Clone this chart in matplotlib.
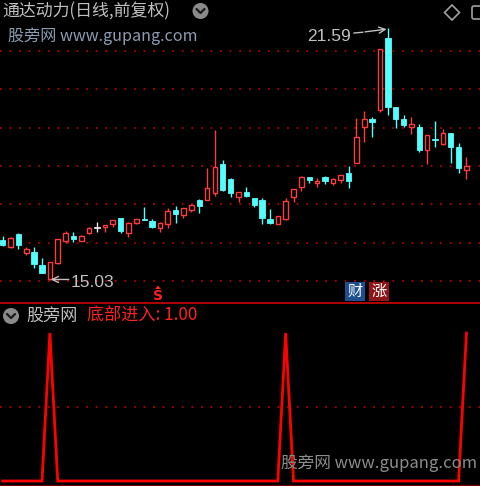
import matplotlib
matplotlib.use("Agg")
import matplotlib.pyplot as plt
from matplotlib.patches import Rectangle, Circle, Polygon, FancyBboxPatch
import numpy as np

plt.rcParams['font.family'] = ['Noto Sans CJK SC', 'DejaVu Sans']

# ---- daily OHLC prices ----
opens = [16.08, 15.88, 16.22, 15.72, 15.76, 15.42, 15.05, 15.46, 16.05, 16.17,
         16.05, 16.24, 16.42, 16.40, 16.49, 16.64, 16.26, 16.52, 16.62, 16.57,
         16.37, 16.49, 16.85, 16.72, 16.85, 17.11, 17.11, 17.30, 18.04, 17.65,
         17.20, 17.33, 17.17, 17.11, 16.61, 16.49, 16.61, 17.20, 17.44, 17.72,
         17.55, 17.71, 17.56, 17.64, 17.81, 18.09, 19.01, 19.22, 19.46, 21.33,
         19.53, 19.22, 19.03, 19.03, 18.42, 18.70, 18.57, 18.87, 18.50, 17.90]
highs = [16.17, 16.16, 16.26, 15.89, 15.88, 15.61, 15.49, 16.10, 16.31, 16.29,
         16.20, 16.42, 16.55, 16.46, 16.59, 16.64, 16.55, 16.63, 16.94, 16.61,
         16.55, 16.90, 16.96, 16.90, 17.01, 17.13, 17.96, 18.94, 18.16, 17.68,
         17.33, 17.44, 17.17, 17.16, 16.87, 16.70, 17.16, 17.39, 17.74, 17.72,
         17.68, 17.74, 17.68, 17.76, 18.00, 19.24, 19.44, 19.29, 21.05, 21.59,
         19.53, 19.33, 19.29, 19.10, 18.81, 19.18, 18.96, 18.87, 18.59, 18.23]
lows = [15.91, 15.85, 15.83, 15.68, 15.33, 15.22, 15.03, 15.45, 15.98, 16.03,
        16.04, 16.23, 16.29, 16.29, 16.40, 16.24, 16.16, 16.48, 16.59, 16.37,
        16.29, 16.37, 16.52, 16.64, 16.81, 16.78, 17.11, 17.22, 17.36, 17.20,
        17.07, 17.18, 16.92, 16.49, 16.49, 16.49, 16.59, 17.07, 17.36, 17.55,
        17.44, 17.53, 17.50, 17.55, 17.42, 18.09, 18.63, 18.75, 19.42, 19.33,
        18.98, 19.03, 18.84, 18.37, 18.05, 18.50, 18.55, 18.09, 17.81, 17.65]
closes = [15.94, 16.11, 15.94, 15.83, 15.44, 15.22, 15.49, 16.09, 16.24, 16.10,
          16.17, 16.39, 16.42, 16.46, 16.59, 16.30, 16.52, 16.63, 16.60, 16.42,
          16.51, 16.83, 16.75, 16.90, 16.98, 16.96, 17.42, 17.98, 17.37, 17.30,
          17.33, 17.22, 16.98, 16.64, 16.52, 16.70, 17.09, 17.39, 17.72, 17.64,
          17.62, 17.62, 17.65, 17.76, 17.62, 18.75, 19.22, 19.16, 21.05, 19.53,
          19.22, 19.07, 19.10, 18.42, 18.81, 18.68, 18.85, 18.49, 17.94, 18.00]

# ---- bottom-entry signal (底部进入) per bar ----
entry_signal = [0, 0, 0, 0, 0, 0, 1, 0, 0, 0,
                0, 0, 0, 0, 0, 0, 0, 0, 0, 0,
                0, 0, 0, 0, 0, 0, 0, 0, 0, 0,
                0, 0, 0, 0, 0, 0, 1, 0, 0, 0,
                0, 0, 0, 0, 0, 0, 0, 0, 0, 0,
                0, 0, 0, 0, 0, 0, 0, 0, 0, 1]

price_grid = [15, 16, 17, 18, 19, 20, 21]
signal_grid = [0.5]

W, H = 480, 486
BG = '#000000'
UP = '#ff3c3c'
DOWN = '#54ffff'
FLAT = '#e6e6e6'
GRID = '#b00000'
GRAY = '#c0c0c0'

fig = plt.figure(figsize=(W / 100, H / 100), dpi=100, facecolor=BG)

# bar index <-> pixel column
X0, DX = 2.7, 7.86
xlim = (-X0 / DX, (W - X0) / DX)

# top (price) panel: pixel rows 0..302
ax = fig.add_axes([0, 1 - 302 / H, 1, 302 / H])
ax.set_facecolor(BG)
PPU = 38.33
ax.set_ylim(15 - 21 / PPU, 15 + 281 / PPU)
ax.set_xlim(*xlim)
ax.axis('off')

for g in price_grid:
    ax.axhline(g, color=GRID, lw=1.3, ls=(0, (1, 4.3)), zorder=1)

bw = 0.58
for i, (o, h, l, c) in enumerate(zip(opens, highs, lows, closes)):
    top, bot = max(o, c), min(o, c)
    if c > o:
        ax.plot([i, i], [top, h], color=UP, lw=1.0, zorder=3, solid_capstyle='butt')
        ax.plot([i, i], [l, bot], color=UP, lw=1.0, zorder=3, solid_capstyle='butt')
        ax.add_patch(Rectangle((i - bw / 2, bot), bw, top - bot, facecolor=BG,
                               edgecolor=UP, lw=1.0, zorder=4))
    else:
        col = DOWN if c < o else FLAT
        ax.plot([i, i], [l, h], color=col, lw=1.0, zorder=3, solid_capstyle='butt')
        hgt = max(top - bot, 0.03)
        ax.add_patch(Rectangle((i - bw / 2 - 0.05, top - hgt), bw + 0.1, hgt,
                               facecolor=col, edgecolor=col, lw=0.6, zorder=4))

# high / low labels with arrows
hi_idx = int(np.argmax(highs))
hi = highs[hi_idx]
lo_idx = int(np.argmin(lows))
lo = lows[lo_idx]
lab_kw = dict(color=GRAY, fontsize=12.5, family=['Liberation Sans', 'DejaVu Sans'],
              va='center', ha='center', zorder=6)
ax.text(hi_idx - 7.5, hi - 0.21, f'{hi:.2f}', **lab_kw)
ax.plot([hi_idx - 4.3, hi_idx - 3.2], [hi - 0.12, hi - 0.10], color=GRAY, lw=1.0, zorder=6)
ax.annotate('', xy=(hi_idx - 0.15, hi - 0.02), xytext=(hi_idx - 2.9, hi - 0.09),
            arrowprops=dict(arrowstyle='->,head_length=0.45,head_width=0.22',
                            color=GRAY, lw=1.0, shrinkA=0, shrinkB=0), zorder=6)
ax.text(lo_idx + 5.4, lo - 0.06, f'{lo:.2f}', **lab_kw)
ax.annotate('', xy=(lo_idx + 0.1, lo + 0.01), xytext=(lo_idx + 2.4, lo + 0.01),
            arrowprops=dict(arrowstyle='->,head_length=0.45,head_width=0.22',
                            color=GRAY, lw=1.0, shrinkA=0, shrinkB=0), zorder=6)

# bottom (signal) panel: pixel rows 303..486
ax2 = fig.add_axes([0, 0, 1, 183 / H])
ax2.set_facecolor(BG)
SPU = 148.0
ax2.set_ylim(-5 / SPU, 1 + 30 / SPU)
ax2.set_xlim(*xlim)
ax2.axis('off')
for g in signal_grid:
    ax2.axhline(g, color=GRID, lw=1.3, ls=(0, (1, 4.3)), zorder=1)
ax2.plot(np.arange(len(entry_signal)), entry_signal, color='#ff0000', lw=2.0,
         zorder=3, solid_joinstyle='miter')

# overlay in pixel coordinates for decorations
ov = fig.add_axes([0, 0, 1, 1], zorder=10)
ov.set_xlim(0, W)
ov.set_ylim(H, 0)
ov.axis('off')
ov.patch.set_alpha(0)

# panel separator and bottom border
ov.plot([0, W], [302.5, 302.5], color='#c00000', lw=1.3)
ov.plot([0, W], [485, 485], color='#6a0000', lw=1.0)

# title line
ov.text(2, 11, '通达动力(日线,前复权)', color=GRAY, fontsize=12.2, va='center', ha='left')
ov.add_patch(Circle((200.5, 11), 8, facecolor='#8a8a8a', edgecolor='none'))
ov.plot([196.5, 200.5, 204.5], [9, 13, 9], color='#1a1a1a', lw=1.6, solid_capstyle='round')
ov.text(8, 36, '股旁网 www.gupang.com', color='#8b9cb0', fontsize=11.6, va='center', ha='left')

# top-right tool icons
ov.add_patch(Polygon([(452, 5), (459.5, 12.5), (452, 20), (444.5, 12.5)], closed=True,
                     facecolor='none', edgecolor='#a0a0a0', lw=1.2))
ov.add_patch(FancyBboxPatch((472, 6), 14, 13, boxstyle='round,pad=0,rounding_size=2',
                            facecolor='none', edgecolor='#a0a0a0', lw=1.2))

# event markers under the price panel
ov.text(158, 296, 'S', color='#ff2020', fontsize=10, fontweight='bold', va='center',
        ha='center', family=['DejaVu Sans'])
ov.add_patch(Polygon([(155, 289), (158, 285.5), (161, 289)], closed=True,
                     facecolor='#ff2020', edgecolor='none'))
ov.add_patch(Rectangle((345, 282), 20, 19, facecolor='#1d4f8f', edgecolor='none'))
ov.text(355, 291.5, '财', color='white', fontsize=11, va='center', ha='center')
ov.add_patch(Rectangle((369, 282), 20, 19, facecolor='#8e1616', edgecolor='none'))
ov.text(379, 291.5, '涨', color='white', fontsize=11, va='center', ha='center')

# signal panel header
ov.add_patch(Circle((11, 316), 8, facecolor='#8a8a8a', edgecolor='none'))
ov.plot([7, 11, 15], [314, 318, 314], color='#1a1a1a', lw=1.6, solid_capstyle='round')
ov.text(26, 316, '股旁网', color=GRAY, fontsize=12.3, va='center', ha='left')
ov.text(87, 316, f'底部进入: {entry_signal[-1]:.2f}', color='#ff2020', fontsize=12.3,
        va='center', ha='left')

# watermark
ov.text(281, 463, '股旁网 www.gupang.com', color='#8c8c8c', fontsize=12.0, va='center', ha='left')

fig.savefig('out.png', dpi=100, facecolor=BG)
